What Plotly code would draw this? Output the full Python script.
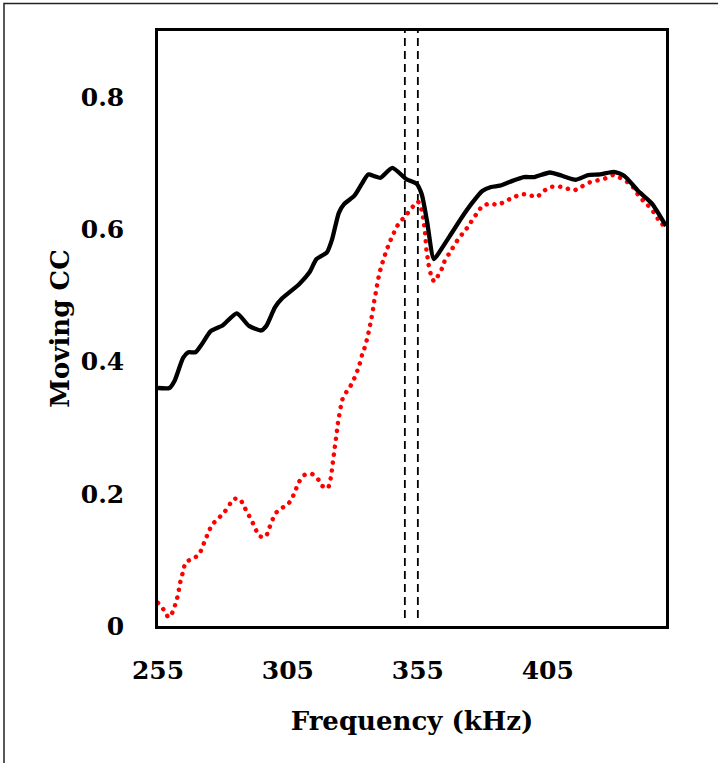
import plotly.graph_objects as go

# Black solid series (Frequency kHz, Moving CC)
black_freq = [255.0, 259.4, 261.4, 264.7, 266.7, 269.4, 272.0, 275.3, 280.0, 285.3,
              290.0, 294.7, 296.7, 300.0, 302.6, 309.3, 313.3, 316.0, 320.0, 322.0,
              324.6, 326.6, 330.6, 333.3, 335.9, 338.5, 340.6, 345.2, 350.5, 354.5,
              356.5, 358.5, 361.2, 364.0, 367.8, 371.9, 375.9, 379.8, 383.2, 386.5,
              390.5, 395.8, 399.8, 405.8, 410.5, 415.8, 420.5, 425.1, 430.4, 434.4,
              439.8, 445.1, 450.5]
black_cc = [0.360, 0.360, 0.371, 0.406, 0.414, 0.414, 0.427, 0.446, 0.455, 0.473,
            0.454, 0.447, 0.454, 0.482, 0.495, 0.517, 0.535, 0.555, 0.565, 0.585,
            0.625, 0.638, 0.651, 0.668, 0.683, 0.680, 0.678, 0.693, 0.676, 0.669,
            0.653, 0.613, 0.555, 0.570, 0.593, 0.618, 0.640, 0.658, 0.664, 0.666,
            0.672, 0.679, 0.679, 0.686, 0.681, 0.675, 0.682, 0.683, 0.687, 0.681,
            0.658, 0.639, 0.605]

# Red dotted series
red_freq = [255.0, 257.1, 259.1, 260.9, 261.8, 262.7, 263.2, 263.9, 264.7, 265.6,
            268.4, 270.8, 272.1, 273.3, 274.5, 276.0, 278.3, 280.5, 282.3, 284.0,
            286.5, 288.1, 289.6, 291.1, 292.5, 294.0, 296.4, 297.7, 298.8, 300.1,
            302.5, 305.2, 306.8, 308.1, 309.3, 311.1, 314.2, 316.6, 318.2, 320.3,
            321.3, 321.8, 322.2, 322.6, 323.0, 323.4, 323.8, 324.2, 324.7, 326.0,
            327.5, 329.2, 330.7, 331.8, 332.9, 333.6, 334.7, 335.5, 336.2, 336.8,
            337.4, 337.9, 338.4, 339.0, 339.5, 340.2, 341.0, 342.0, 343.0, 344.2,
            345.5, 346.7, 348.8, 350.8, 352.8, 355.0, 356.3, 357.0, 357.4, 357.8,
            358.3, 358.8, 359.3, 360.0, 361.3, 362.8, 364.3, 365.4, 367.0, 368.9,
            370.5, 372.5, 374.3, 376.1, 377.9, 379.8, 382.8, 385.9, 388.8, 391.8,
            394.5, 397.8, 400.8, 403.1, 406.0, 409.1, 412.2, 415.2, 418.2, 421.1,
            424.1, 427.1, 430.1, 432.8, 435.8, 438.2, 439.8, 441.8, 444.4, 446.1,
            447.7, 450.0]
red_cc = [0.035, 0.025, 0.013, 0.023, 0.035, 0.047, 0.059, 0.072, 0.083, 0.096,
          0.102, 0.108, 0.120, 0.131, 0.143, 0.154, 0.163, 0.172, 0.182, 0.192,
          0.192, 0.181, 0.170, 0.159, 0.147, 0.136, 0.135, 0.147, 0.158, 0.170,
          0.178, 0.185, 0.195, 0.207, 0.218, 0.228, 0.230, 0.222, 0.212, 0.208,
          0.220, 0.232, 0.245, 0.257, 0.269, 0.281, 0.293, 0.306, 0.318, 0.343,
          0.354, 0.364, 0.376, 0.387, 0.400, 0.411, 0.423, 0.435, 0.447, 0.459,
          0.471, 0.483, 0.496, 0.508, 0.520, 0.533, 0.545, 0.557, 0.569, 0.581,
          0.592, 0.603, 0.614, 0.623, 0.633, 0.642, 0.631, 0.618, 0.607, 0.594,
          0.569, 0.556, 0.543, 0.532, 0.521, 0.530, 0.541, 0.553, 0.563, 0.575,
          0.585, 0.595, 0.604, 0.615, 0.625, 0.635, 0.639, 0.637, 0.643, 0.648,
          0.653, 0.652, 0.649, 0.657, 0.664, 0.665, 0.662, 0.659, 0.665, 0.671,
          0.674, 0.677, 0.682, 0.678, 0.671, 0.662, 0.652, 0.643, 0.633, 0.624,
          0.614, 0.604]

# Vertical dashed marker lines
marker_freqs = [350.0, 355.0]
marker_span = [0.012, 0.9]

x_ticks = [255, 305, 355, 405]
y_ticks = [0, 0.2, 0.4, 0.6, 0.8]
y_tick_text = ["0", "0.2", "0.4", "0.6", "0.8"]

FONT = "DejaVu Serif"

fig = go.Figure()

for f in marker_freqs:
    fig.add_trace(go.Scatter(x=[f, f], y=marker_span, mode="lines",
                             line=dict(color="black", width=1.8, dash="8px,5px"),
                             showlegend=False, hoverinfo="skip"))

fig.add_trace(go.Scatter(x=red_freq, y=red_cc, mode="lines",
                         line=dict(color="#ff0000", width=4.5, dash="2px,6px", shape="spline", smoothing=0.6),
                         showlegend=False))
fig.add_trace(go.Scatter(x=black_freq, y=black_cc, mode="lines",
                         line=dict(color="black", width=4.3, shape="spline", smoothing=0.6),
                         showlegend=False))

fig.update_layout(
    width=718, height=763,
    margin=dict(l=158, r=52, t=31, b=137),
    paper_bgcolor="white", plot_bgcolor="white",
    font=dict(family=FONT, color="black", size=25),
    xaxis=dict(range=[255, 450.5], tickvals=x_ticks, ticktext=[str(v) for v in x_ticks],
               showgrid=False, zeroline=False, showline=True, linecolor="black",
               linewidth=2.5, mirror=True, ticks="", ticklabelstandoff=20,
               tickfont=dict(family=FONT, size=25, color="black", weight="bold"),
               title=dict(text="<b>Frequency (kHz)</b>", standoff=29,
                          font=dict(family=FONT, size=26, color="black"))),
    yaxis=dict(range=[0, 0.9], tickvals=y_ticks, ticktext=y_tick_text,
               showgrid=False, zeroline=False, showline=True, linecolor="black",
               linewidth=2.5, mirror=True, ticks="", ticklabelstandoff=26,
               tickfont=dict(family=FONT, size=25, color="black", weight="bold"),
               title=dict(text="<b>Moving CC</b>", standoff=4,
                          font=dict(family=FONT, size=26, color="black"))),
    shapes=[dict(type="rect", xref="paper", yref="paper",
                 x0=(4 - 158) / 508, x1=(730 - 158) / 508,
                 y0=(626 - 775) / 595, y1=(626 - 3.5) / 595,
                 line=dict(color="#222222", width=1.5), fillcolor="rgba(0,0,0,0)",
                 layer="below")],
)

post = """
document.body.style.margin='0';
document.querySelectorAll('path.js-line').forEach(function(p){
  if (p.style.stroke === 'rgb(255, 0, 0)') {
    p.style.strokeLinecap = 'round';
    p.style.strokeDasharray = '0.1px,7.9px';
  }
});
"""

fig.write_html("out.html", config={"displayModeBar": False}, post_script=post)
